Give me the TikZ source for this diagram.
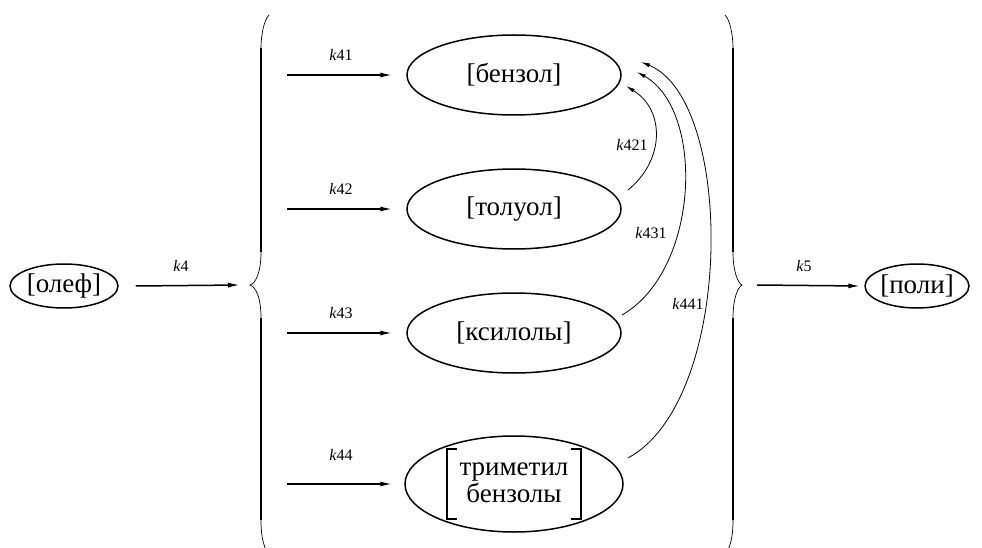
\documentclass[tikz,border=0pt]{standalone}
\usepackage{fontspec}
\setmainfont{Liberation Serif}
\usetikzlibrary{arrows.meta,shapes.geometric}
\begin{document}
\begin{tikzpicture}[x=1pt,y=-1pt,
  species/.style={ellipse,draw,line width=1.5pt,inner sep=0pt,
    font=\fontsize{27}{24}\selectfont},
  bigsp/.style={species,minimum width=214,minimum height=80},
  smallsp/.style={species,minimum width=108,minimum height=44},
  feed/.style={line width=1.5pt,-{Latex[length=12pt,width=5pt]}},
  bendarrow/.style={line width=0.8pt,-{Latex[length=9pt,width=4pt]}},
  rate/.style={font=\fontsize{16}{18}\selectfont},
  bracethin/.style={line width=0.7pt},
  bracethick/.style={line width=1.4pt},
  sqbracket/.style={line width=1.3pt},
]
\useasboundingbox (0,0) rectangle (982,548);

% end species
\node[smallsp] (olef) at (64,286) {[олеф]};
\node[smallsp,minimum width=102] (poli) at (917,286) {[поли]};

% aromatic species
\node[bigsp] (benz) at (514,75) {[бензол]};
\node[bigsp] (tol) at (514,209) {[толуол]};
\node[bigsp] (xyl) at (514,333) {[ксилолы]};
\node[bigsp,minimum width=218,minimum height=96] (tmb) at (514,484)
  {\begin{tabular}{@{}c@{}}триметил\\бензолы\end{tabular}};
% square brackets round the two-line name
\draw[sqbracket] ([shift={(-57,-35)}]tmb.center) -- ++(-10,0) -- ++(0,70) -- ++(10,0);
\draw[sqbracket] ([shift={(57,-35)}]tmb.center) -- ++(10,0) -- ++(0,70) -- ++(-10,0);

% brace tips
\coordinate (lb) at (250,285);
\coordinate (rb) at (742,285);

% left brace
\draw[bracethin] (269,15) .. controls (264,20) and (261,35) .. (261,48);
\draw[bracethick] (261,48) -- (261,252);
\draw[bracethin] (261,252) .. controls (261,272) and (256,283) .. (lb)
  .. controls (256,287) and (261,298) .. (261,318);
\draw[bracethick] (261,318) -- (261,520);
\draw[bracethin] (261,520) .. controls (261,535) and (263,543) .. (266,550);

% right brace
\draw[bracethin] (725,15) .. controls (730,20) and (733,35) .. (733,48);
\draw[bracethick] (733,48) -- (733,252);
\draw[bracethin] (733,252) .. controls (733,272) and (738,283) .. (rb)
  .. controls (738,287) and (733,298) .. (733,318);
\draw[bracethick] (733,318) -- (733,520);
\draw[bracethin] (733,520) .. controls (733,535) and (731,543) .. (728,550);

% overall feed and product
\draw[feed] ([xshift=17pt]olef.east) -- ([xshift=-10pt]lb);
\node[rate] (l4) at (181,266) {\textit{k}4};
\draw[feed] ([xshift=15pt]rb) -- ([xshift=-4pt]poli.west);
\node[rate] (l5) at (804,266) {\textit{k}5};

% direct formation
\coordinate (s1) at (287,75);
\coordinate (s2) at (287,209);
\coordinate (s3) at (287,333);
\coordinate (s4) at (287,484);
\draw[feed] (s1) -- ([xshift=-14pt]benz.west);
\draw[feed] (s2) -- ([xshift=-14pt]tol.west);
\draw[feed] (s3) -- ([xshift=-14pt]xyl.west);
\draw[feed] (s4) -- ([xshift=-12pt]tmb.west);
\node[rate] (l41) at (341,55) {\textit{k}41};
\node[rate] (l42) at (341,189) {\textit{k}42};
\node[rate] (l43) at (341,313) {\textit{k}43};
\node[rate] (l44) at (341,455) {\textit{k}44};

% dealkylation back to benzene
\coordinate (a2) at (628,190);
\coordinate (a3) at (622,315);
\coordinate (a4) at (628,458);
\coordinate (b2) at (626,86);
\coordinate (b3) at (637,72);
\coordinate (b4) at (641,62);
\draw[bendarrow] (a2) .. controls (665,160) and (665,110) .. (b2);
\draw[bendarrow] (a3) .. controls (700,270) and (705,110) .. (b3);
\draw[bendarrow] (a4) .. controls (735,400) and (735,100) .. (b4);
\node[rate] (l421) at (632,145) {\textit{k}421};
\node[rate] (l431) at (651,233) {\textit{k}431};
\node[rate] (l441) at (688,304) {\textit{k}441};
\end{tikzpicture}
\end{document}
